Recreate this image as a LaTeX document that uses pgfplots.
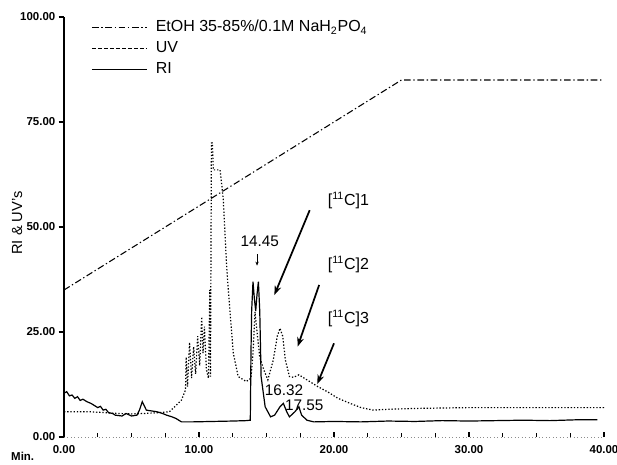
\documentclass[border=0pt]{standalone}
\usepackage{fontspec}
\setmainfont{Liberation Sans}
\usepackage{pgfplots}
\pgfplotsset{compat=1.18}
\usetikzlibrary{arrows.meta}
\begin{document}
\begin{tikzpicture}
\begin{axis}[
  at={(48pt,20.25pt)}, anchor=south west,
  scale only axis, width=405pt, height=315pt,
  xmin=0, xmax=40, ymin=0, ymax=100,
  axis x line*=bottom, axis y line*=left,
  x axis line style={draw=black!45, dotted, line width=0.6pt},
  y axis line style={line width=1.5pt},
  xtick={0,10,20,30,40},
  xticklabels={0.00,10.00,20.00,30.00,40.00},
  minor xtick={2.5,5,7.5,12.5,15,17.5,22.5,25,27.5,32.5,35,37.5},
  ytick={0,25,50,75,100},
  yticklabels={0.00,25.00,50.00,75.00,100.00},
  xtick align=inside, ytick align=outside,
  major tick length=4pt, minor tick length=3pt,
  tick style={black, line width=0.8pt},
  tick label style={font=\fontsize{8.6}{10}\selectfont\bfseries},
  xticklabel style={yshift=-3pt},
  yticklabel style={xshift=1pt},
  legend style={at={(axis cs:2.0,99.3)}, anchor=north west, draw=none, fill=none,
    font=\fontsize{12}{14}\selectfont, row sep=4.6pt, inner sep=0pt,
    nodes={inner sep=0pt, text height=8.6pt, text depth=2.4pt},
    /tikz/every odd column/.append style={column sep=6.5pt}},
  legend cell align=left,
  legend image code/.code={\draw[#1] (0pt,0pt) -- (41pt,0pt);},
]
% gradient
\addplot[black, line width=0.8pt, dash pattern=on 5pt off 2pt on 1pt off 2pt] coordinates {
(0,35) (25,85) (40,85)};
\addlegendentry{EtOH 35-85\%/0.1M NaH\textsubscript{2}PO\textsubscript{4}}
% UV
\addplot[black, line width=0.9pt, dash pattern=on 1pt off 1.4pt,
  legend image post style={dash pattern=on 3pt off 1.5pt}] coordinates {
(0,6.0) (1,6.0) (2,6.0) (3,5.8) (4,5.6) (5,5.5) (6,5.6) (7,5.8) (7.8,6.0)
(8.2,7.2) (8.7,8.8) (9.0,11.2) (9.05,19) (9.15,12) (9.3,22.5) (9.45,14) (9.6,21.5)
(9.75,15) (9.9,24) (10.05,17) (10.2,28.6) (10.3,20) (10.4,26.3) (10.55,16)
(10.7,14) (10.8,35) (10.85,14.4) (10.92,70) (10.99,70) (11.06,63.6) (11.3,63.6)
(11.56,63.6) (11.7,59.6) (11.8,56.4) (12.05,40.5) (12.3,29.5) (12.54,20) (12.9,14.4)
(13.5,13.2) (13.85,14) (14.0,20) (14.15,29.8) (14.3,25) (14.5,19) (14.8,16)
(15.1,13.6) (15.5,18.3) (15.8,24) (16.0,25.9) (16.2,24) (16.4,18.3) (16.7,14.4)
(17.0,14.2) (17.4,14.8) (18.0,13.6) (18.8,12) (19.5,10.8) (20.3,9.2) (21.2,8.0)
(22.0,7.0) (22.9,6.4) (24,6.6) (26,6.8) (30,7.0) (35,7.0) (40,7.0)};
\addlegendentry{UV}
% RI
\addplot[black, line width=0.9pt] coordinates {
(0,10.4) (0.2,10.8) (0.4,9.8) (0.6,10.0) (0.8,9.2) (1.0,9.6) (1.2,8.7) (1.4,9.0)
(1.7,8.4) (2.0,8.0) (2.2,7.6) (2.5,7.0) (2.7,7.3) (2.9,6.4) (3.1,6.6) (3.3,5.8)
(3.6,5.6) (3.8,5.2) (4.3,5.0) (4.6,5.6) (5.0,5.0) (5.4,5.2) (5.6,6.5) (5.8,8.4)
(6.1,6.4) (6.5,6.2) (6.9,6.0) (7.3,5.6) (7.6,5.2) (8.0,4.8) (8.3,4.4) (8.7,3.6)
(9.5,3.6) (11,3.7) (12.5,3.8) (13.5,3.9) (13.8,4.0) (13.85,20) (13.9,30) (14.0,37)
(14.1,33) (14.2,30) (14.3,34) (14.4,37) (14.5,30) (14.6,14.4) (14.9,7.2) (15.3,4.8)
(15.6,5.2) (16.0,7.2) (16.25,8.0) (16.5,6.0) (16.7,4.8) (17.1,6.0) (17.4,7.2)
(17.6,5.2) (18.0,4.0) (18.5,3.6) (20,3.7) (22,3.6) (24,3.8) (26,3.7) (28,3.9)
(30,3.8) (32,3.9) (34,4.0) (36,3.9) (38,4.1) (39.5,4.1)};
\addlegendentry{RI}
% annotations
\node[font=\fontsize{11.5}{13}\selectfont] at (axis cs:14.5,46.5) {14.45};
\draw[black, line width=0.8pt, -{Stealth[length=3pt,width=2.5pt]}] (axis cs:14.3,43.5) -- (axis cs:14.3,40.8);
\node[font=\fontsize{11.5}{13}\selectfont] at (axis cs:16.3,11.2) {16.32};
\node[font=\fontsize{11.5}{13}\selectfont] at (axis cs:17.8,7.6) {17.55};
\node[anchor=west, font=\fontsize{12}{14}\selectfont] at (axis cs:19.2,56.4) {[\textsuperscript{11}C]1};
\node[anchor=west, font=\fontsize{12}{14}\selectfont] at (axis cs:19.2,41) {[\textsuperscript{11}C]2};
\node[anchor=west, font=\fontsize{12}{14}\selectfont] at (axis cs:19.2,28.3) {[\textsuperscript{11}C]3};
\draw[black, line width=1.3pt, -{Stealth[length=7pt,width=5pt]}] (axis cs:18.2,54.0) -- (axis cs:15.58,33.8);
\draw[black, line width=1.3pt, -{Stealth[length=7pt,width=5pt]}] (axis cs:18.9,36.2) -- (axis cs:17.3,21.5);
\draw[black, line width=1.3pt, -{Stealth[length=7pt,width=5pt]}] (axis cs:20.0,22.3) -- (axis cs:18.76,12.6);
\end{axis}
\node[font=\fontsize{8.6}{10}\selectfont\bfseries, anchor=base] at (17pt,3pt) {Min.};
\node[rotate=90, font=\fontsize{11}{13}\selectfont] at (12.75pt,180.75pt) {RI \& UV's};
\pgfresetboundingbox
\useasboundingbox (0,0) rectangle (462.75pt,348pt);
\end{tikzpicture}
\end{document}
